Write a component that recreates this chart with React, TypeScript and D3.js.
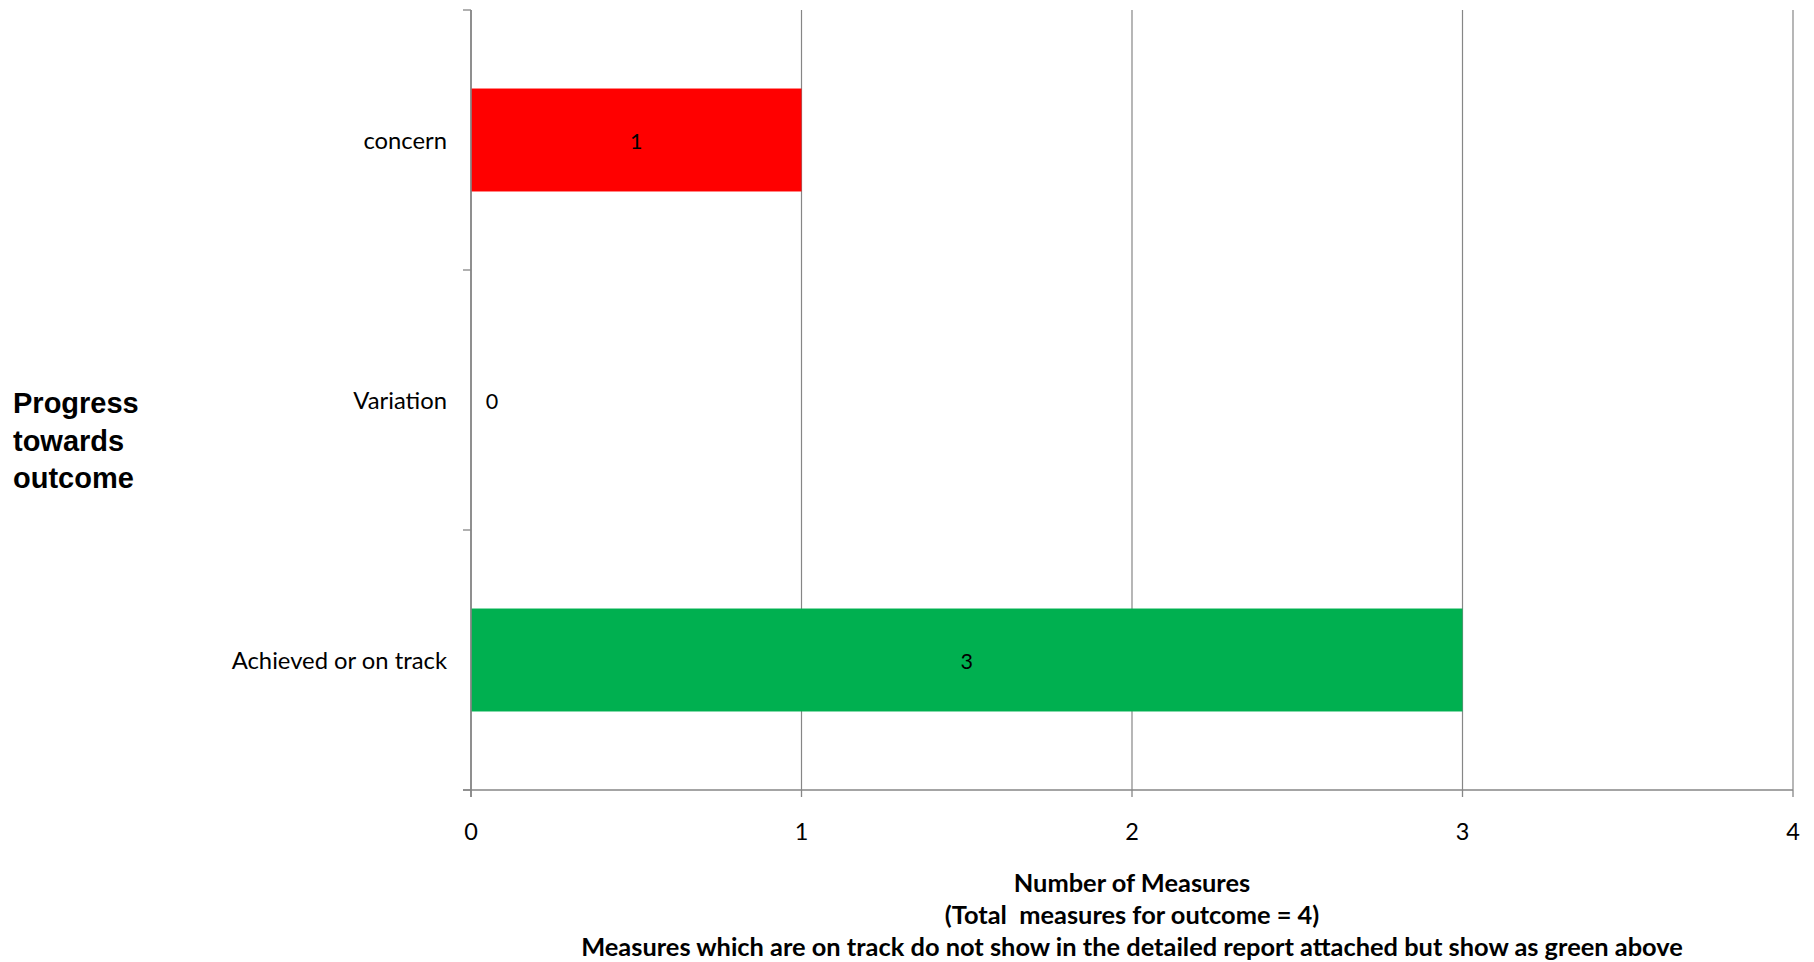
import React from "react";
import * as d3 from "d3";

const categories = ["concern", "Variation", "Achieved or on track"];
const values = [1, 0, 3];
const barColors = ["#FF0000", "#FFC000", "#00B050"];
const xTicks = [0, 1, 2, 3, 4];
const yAxisTitle = ["Progress", "towards", "outcome"];
const xAxisTitle = [
  "Number of Measures",
  "(Total  measures for outcome = 4)",
  "Measures which are on track do not show in the detailed report attached but show as green above",
];

const W = 1814;
const H = 962;
const left = 471;
const right = 1793;
const top = 10;
const bottom = 790;
const labelFont = "Lato, 'Open Sans', sans-serif";

export default function App() {
  const x = d3.scaleLinear().domain([0, 4]).range([left, right]);
  const y = d3.scaleBand<string>().domain(categories).range([top, bottom]).padding(0);
  const bw = y.bandwidth();
  const barH = bw * 0.396;
  const gridColor = "#868686";

  return (
    <svg width={W} height={H} style={{ position: "absolute", left: 0, top: 0, background: "#fff" }}>
      {xTicks.map((t) => (
        <line key={"g" + t} x1={x(t)} x2={x(t)} y1={top} y2={bottom} stroke={gridColor} strokeWidth={1.2} />
      ))}
      {categories.map((c, i) => {
        const cy = (y(c) as number) + bw / 2;
        return (
          <rect
            key={"b" + c}
            x={x(0)}
            y={cy - barH / 2}
            width={x(values[i]) - x(0)}
            height={barH}
            fill={barColors[i]}
          />
        );
      })}
      <line x1={left} x2={left} y1={top} y2={bottom + 7} stroke={gridColor} strokeWidth={1.6} />
      {[top, ...categories.map((c) => (y(c) as number) + bw)].map((v, i) => (
        <line key={"yt" + i} x1={left - 8} x2={left} y1={v} y2={v} stroke={gridColor} strokeWidth={1.3} />
      ))}
      <line x1={left - 8} x2={right} y1={bottom} y2={bottom} stroke={gridColor} strokeWidth={1.6} />
      {xTicks.map((t) => (
        <line key={"xt" + t} x1={x(t)} x2={x(t)} y1={bottom} y2={bottom + 7} stroke={gridColor} strokeWidth={1.3} />
      ))}
      {xTicks.map((t) => (
        <text key={"xl" + t} x={x(t)} y={831} textAnchor="middle" dominantBaseline="central" fontFamily={labelFont} fontSize={23.5} fill="#000">
          {t}
        </text>
      ))}
      {categories.map((c) => (
        <text key={"cl" + c} x={447} y={(y(c) as number) + bw / 2} textAnchor="end" dominantBaseline="central" fontFamily={labelFont} fontSize={23.8} fill="#000">
          {c}
        </text>
      ))}
      {categories.map((c, i) => {
        const cx = Math.max((x(0) + x(values[i])) / 2, x(0) + 21);
        return (
          <text key={"dl" + c} x={cx} y={(y(c) as number) + bw / 2 + 1} textAnchor="middle" dominantBaseline="central" fontFamily={labelFont} fontSize={21.5} fill="#000">
            {values[i]}
          </text>
        );
      })}
      {yAxisTitle.map((s, i) => (
        <text key={"yat" + i} x={13} y={403 + i * 37.6} dominantBaseline="central" fontFamily="'Liberation Sans', Arial, sans-serif" fontWeight="bold" fontSize={29} fill="#000">
          {s}
        </text>
      ))}
      {xAxisTitle.map((s, i) => (
        <text key={"xat" + i} x={(left + right) / 2} y={881.5 + i * 32.4} textAnchor="middle" dominantBaseline="central" fontFamily={labelFont} fontWeight="bold" fontSize={25.4} fill="#000" style={{ whiteSpace: "pre" }}>
          {s}
        </text>
      ))}
    </svg>
  );
}
